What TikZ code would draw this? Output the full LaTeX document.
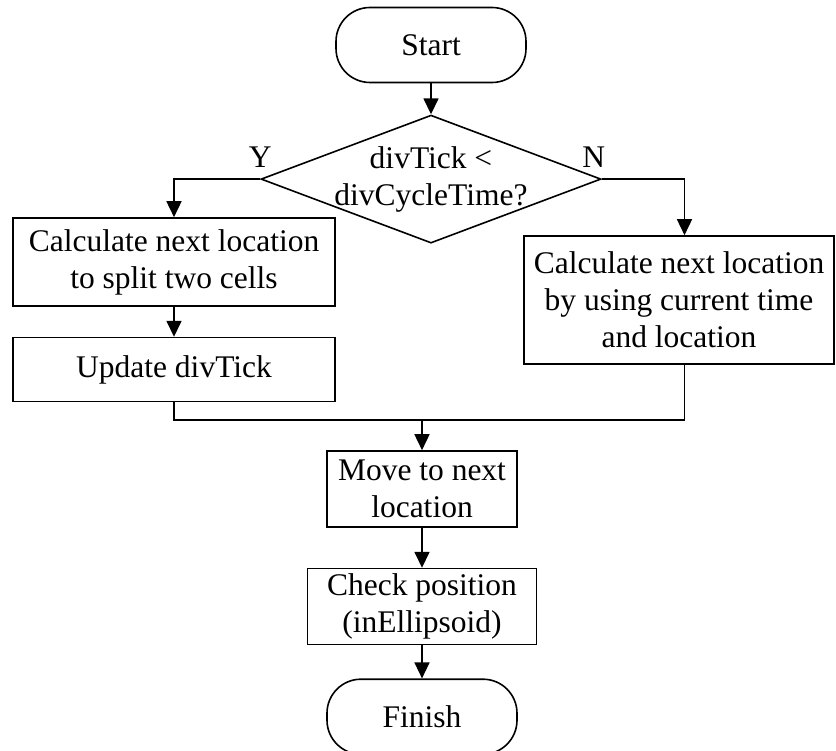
\documentclass[tikz,border=0pt]{standalone}
\usepackage{fontspec}
\setmainfont{Liberation Serif}
\usetikzlibrary{shapes.geometric,arrows.meta,positioning,calc}

\begin{document}
\begin{tikzpicture}[
  x=1pt, y=1pt,
  font=\fontsize{31.5}{37}\selectfont,
  box/.style  = {rectangle, draw, line width=1.6pt, minimum width=#1,
                 minimum height=76pt, align=center, inner sep=3pt},
  box/.default = 190pt,
  term/.style = {rectangle, rounded corners=34pt, draw, line width=1.6pt,
                 minimum width=190pt, minimum height=75pt},
  dec/.style  = {diamond, draw, line width=1.6pt, minimum width=340pt,
                 minimum height=128pt, inner sep=0pt},
  arr/.style  = {-{Triangle[length=16pt,width=15pt]}, line width=1.6pt},
  lbl/.style  = {inner sep=0pt},
]
\useasboundingbox (0,0) rectangle (836,-751);

\node[term] (start) at (431,-45) {Start};
\node[dec, below=31pt of start] (dia) {};
\node[align=center] (diatxt) at (dia) {divTick <\\divCycleTime?};

\node[box=322pt, minimum height=88pt] (calcL) at (174,-262)
  {Calculate next location\\to split two cells};
\node[box=322pt, minimum height=64pt, below=30pt of calcL] (upd)
  {Update divTick};
\node[box=310pt, minimum height=128pt] (calcR) at (679,-300)
  {Calculate next location\\by using current time\\and location};

\node[box] (move) at (422,-489) {Move to next\\location};
\node[box=229pt, below=40pt of move] (check)
  {Check position\\(inEllipsoid)};
\node[term, below=33pt of check] (finish) {Finish};

\coordinate[above=30pt of move] (merge);

\draw[arr] (start) -- (dia);
\draw[arr] (dia.west) -| (calcL.north);
\draw[arr] (dia.east) -| ([xshift=5.5pt]calcR.north);
\draw[arr] (calcL) -- (upd);
\draw[line width=1.6pt] (upd.south) |- (merge) -| ([xshift=5.5pt]calcR.south);
\draw[arr] (merge) -- (move);
\draw[arr] (move) -- (check);
\draw[arr] (check) -- (finish);

\node[lbl, above=11pt of dia.west] (yes) {Y};
\node[lbl, above=11pt of dia.east, xshift=-8pt] (no) {N};
\end{tikzpicture}
\end{document}
